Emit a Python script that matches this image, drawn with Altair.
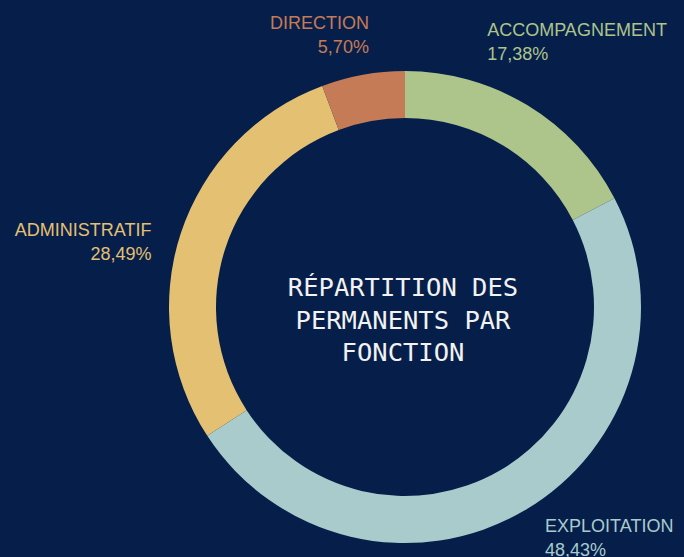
import altair as alt
import pandas as pd

# ---- data ----
categories = ["ACCOMPAGNEMENT", "EXPLOITATION", "ADMINISTRATIF", "DIRECTION"]
shares = [17.38, 48.43, 28.49, 5.70]
colors = ["#adc48b", "#a9cbcc", "#e4c072", "#c67b57"]
title_lines = ["RÉPARTITION DES", "PERMANENTS PAR", "FONCTION"]

# ---- layout / style ----
BG = "#061f4a"
W, H = 684, 557
CX, CY = 405, 307
R_IN, R_OUT = 189, 236
R_LAB = 270
# label alignment and nudges (align, dx, dy)
label_style = {
    "ACCOMPAGNEMENT": ("left", -58, -40),
    "EXPLOITATION": ("left", 4, -8),
    "ADMINISTRATIF": ("right", 3, 13),
    "DIRECTION": ("right", 12, -12),
}

pct_text = [f"{v:.2f}".replace(".", ",") + "%" for v in shares]
df = pd.DataFrame({
    "idx": list(range(len(categories))),
    "cat": categories,
    "share": shares,
    "label": [c + "\n" + p for c, p in zip(categories, pct_text)],
})

base = alt.Chart(df)

arcs = base.mark_arc(innerRadius=R_IN, outerRadius=R_OUT).encode(
    theta=alt.Theta("share:Q", stack=True),
    color=alt.Color("cat:N", scale=alt.Scale(domain=categories, range=colors), legend=None),
    order=alt.Order("idx:Q"),
    x=alt.value(CX),
    y=alt.value(CY),
)

lab_base = base.transform_joinaggregate(
    total="sum(share)"
).transform_window(
    cum="sum(share)", sort=[alt.SortField("idx")], frame=[None, 0]
).transform_calculate(
    mid="(datum.cum - datum.share / 2) / datum.total * 2 * PI"
).transform_calculate(
    lx=f"{CX} + {R_LAB} * sin(datum.mid)",
    ly=f"{CY} - {R_LAB} * cos(datum.mid)",
)

layers = [arcs]
for cat, col in zip(categories, colors):
    align, dx, dy = label_style[cat]
    layers.append(
        lab_base.transform_filter(alt.datum.cat == cat).mark_text(
            align=align, baseline="alphabetic", dx=dx, dy=dy,
            lineBreak="\n", lineHeight=24,
            font="Liberation Sans", fontSize=18, color=col,
        ).encode(
            x=alt.X("lx:Q", scale=None, axis=None),
            y=alt.Y("ly:Q", scale=None, axis=None),
            text="label:N",
        )
    )

title = alt.Chart(pd.DataFrame({"k": [0]})).mark_text(
    text=title_lines, align="center", baseline="alphabetic",
    lineHeight=32.5, font="DejaVu Sans Mono", fontSize=25.5,
    color="#f2f2f2",
).encode(x=alt.value(403), y=alt.value(296))
layers.append(title)

chart = alt.layer(*layers).properties(
    width=W, height=H, background=BG, padding=0,
    autosize=alt.AutoSizeParams(type="none"),
).configure_view(strokeWidth=0)

chart.save("out.html", embed_options={"renderer": "svg", "actions": False})
